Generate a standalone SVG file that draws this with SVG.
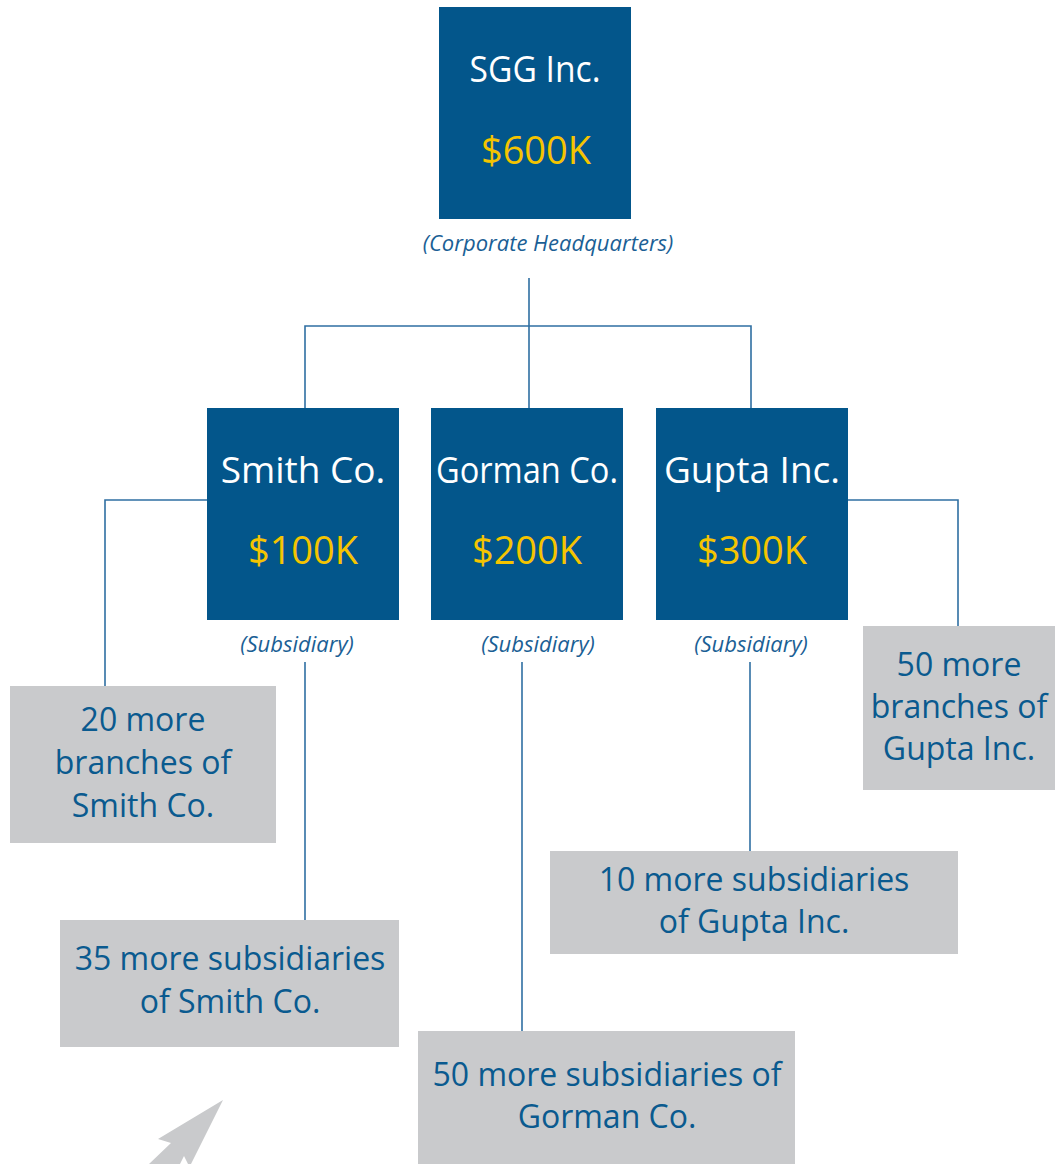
<svg xmlns="http://www.w3.org/2000/svg" width="1061" height="1164" viewBox="0 0 1061 1164">
  <style>
    .co { fill: #03568b; }
    .more { fill: #c9cacc; }
    .name { font-family: "Open Sans", "Liberation Sans", sans-serif; font-size: 37px; fill: #ffffff; text-anchor: middle; }
    .amt { font-family: "Open Sans", "Liberation Sans", sans-serif; font-size: 38px; fill: #f5c400; text-anchor: middle; }
    .note { font-family: "Open Sans", "Liberation Sans", sans-serif; font-size: 22px; font-style: italic; fill: #1b5f95; text-anchor: middle; }
    .lbl { font-family: "Open Sans", "Liberation Sans", sans-serif; font-size: 32px; fill: #0a5a8f; text-anchor: middle; }
    .wire { fill: none; stroke: #2f6fa2; stroke-width: 1.6; }
  </style>

  <!-- connectors -->
  <g id="connectors">
    <path class="wire" d="M529,278 V408 M305,408 V326 H751 V408"/>
    <path class="wire" d="M207,500 H105 V686"/>
    <path class="wire" d="M305,662 V920"/>
    <path class="wire" d="M522,662 V1031"/>
    <path class="wire" d="M750,662 V851"/>
    <path class="wire" d="M848,500 H958 V626"/>
  </g>

  <!-- headquarters -->
  <g id="sgg">
    <rect class="co" x="439" y="7" width="192" height="212"/>
    <text class="name" x="535" y="82" textLength="131" lengthAdjust="spacingAndGlyphs">SGG Inc.</text>
    <text class="amt" x="536" y="164">$600K</text>
    <text class="note" x="548" y="251">(Corporate Headquarters)</text>
  </g>

  <!-- subsidiaries -->
  <g id="smith">
    <rect class="co" x="207" y="408" width="192" height="212"/>
    <text class="name" x="303" y="483">Smith Co.</text>
    <text class="amt" x="303" y="564">$100K</text>
    <text class="note" x="297" y="652">(Subsidiary)</text>
  </g>
  <g id="gorman">
    <rect class="co" x="431" y="408" width="192" height="212"/>
    <text class="name" x="527" y="483" textLength="182" lengthAdjust="spacingAndGlyphs">Gorman Co.</text>
    <text class="amt" x="527" y="564">$200K</text>
    <text class="note" x="538" y="652">(Subsidiary)</text>
  </g>
  <g id="gupta">
    <rect class="co" x="656" y="408" width="192" height="212"/>
    <text class="name" x="752" y="483">Gupta Inc.</text>
    <text class="amt" x="752" y="564">$300K</text>
    <text class="note" x="751" y="652">(Subsidiary)</text>
  </g>

  <!-- further entities -->
  <g id="smith-branches">
    <rect class="more" x="10" y="686" width="266" height="157"/>
    <text class="lbl" x="143" y="731">20 more</text>
    <text class="lbl" x="143" y="774">branches of</text>
    <text class="lbl" x="143" y="817">Smith Co.</text>
  </g>
  <g id="smith-subs">
    <rect class="more" x="60" y="920" width="339" height="127"/>
    <text class="lbl" x="230" y="970">35 more subsidiaries</text>
    <text class="lbl" x="230" y="1013">of Smith Co.</text>
  </g>
  <g id="gorman-subs">
    <rect class="more" x="418" y="1031" width="377" height="140"/>
    <text class="lbl" x="607" y="1086">50 more subsidiaries of</text>
    <text class="lbl" x="607" y="1128">Gorman Co.</text>
  </g>
  <g id="gupta-subs">
    <rect class="more" x="550" y="851" width="408" height="103"/>
    <text class="lbl" x="754" y="891">10 more subsidiaries</text>
    <text class="lbl" x="754" y="933">of Gupta Inc.</text>
  </g>
  <g id="gupta-branches">
    <rect class="more" x="863" y="626" width="192" height="164"/>
    <text class="lbl" x="959" y="676">50 more</text>
    <text class="lbl" x="959" y="718">branches of</text>
    <text class="lbl" x="959" y="760">Gupta Inc.</text>
  </g>

  <!-- pointer arrow -->
  <polygon fill="#c9cacc" points="223,1100 158,1139 171,1143 149,1164 180,1164 184,1156 188,1164 191,1164"/>
</svg>
